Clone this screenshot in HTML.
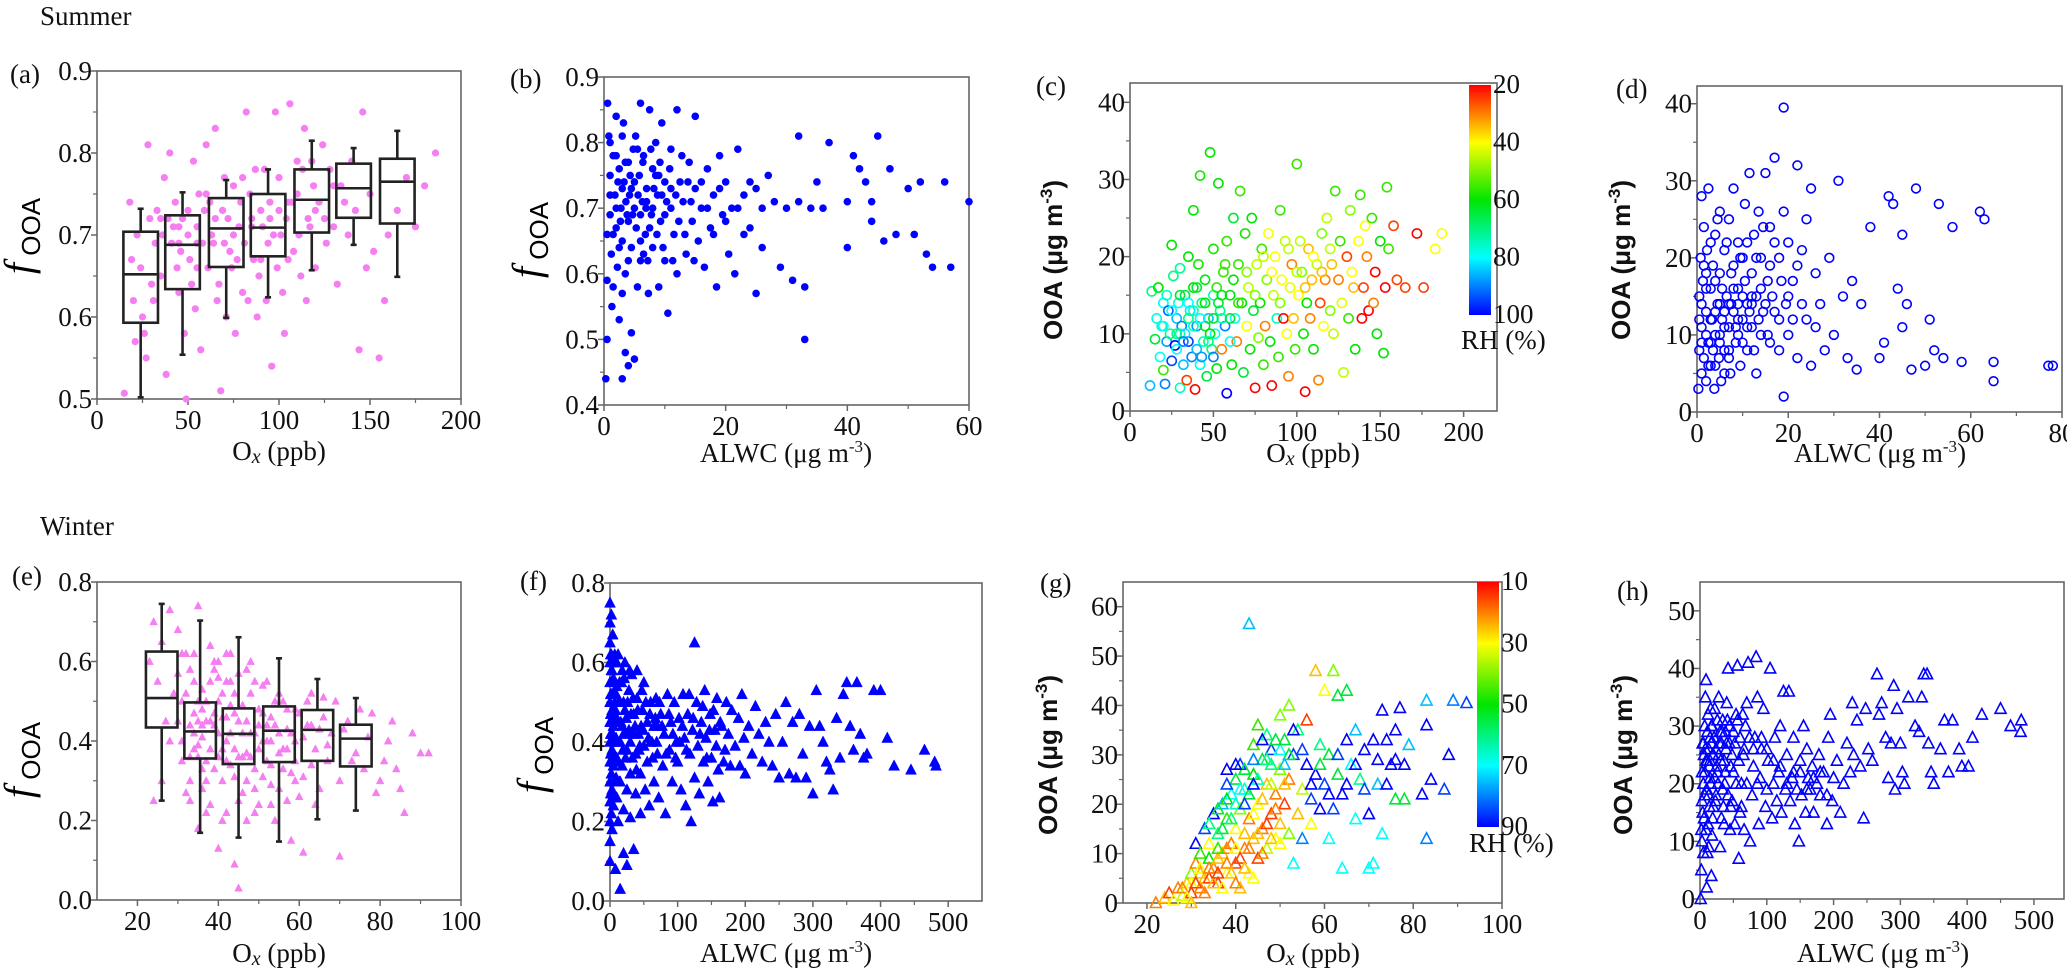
<!DOCTYPE html>
<html><head><meta charset="utf-8"><style>
html,body{margin:0;padding:0;background:#fff;}
svg{display:block;}
.tk{font-family:"Liberation Serif",serif;font-size:27px;fill:#111;}
.ttl{font-family:"Liberation Serif",serif;font-size:27px;fill:#111;}
.ttls{font-family:"Liberation Sans",sans-serif;font-size:26px;font-weight:bold;fill:#111;}
</style></head><body>
<svg id="fig" width="2067" height="977" viewBox="0 0 2067 977" xmlns="http://www.w3.org/2000/svg">
<defs>
<linearGradient id="jet" x1="0" y1="0" x2="0" y2="1">
<stop offset="0" stop-color="hsl(0,100%,50%)"/><stop offset="0.25" stop-color="hsl(60,100%,50%)"/>
<stop offset="0.5" stop-color="hsl(120,100%,45%)"/><stop offset="0.75" stop-color="hsl(180,100%,50%)"/>
<stop offset="1" stop-color="hsl(240,100%,50%)"/></linearGradient>
</defs>
<text x="40" y="25" class="ttl" font-size="30">Summer</text>
<text x="40" y="535" class="ttl" font-size="30">Winter</text>
</svg>
<script>
// ---- data ----
const boxA_x=[24,47,71,94,118,141,165];
const boxA_q1=[0.593,0.634,0.661,0.674,0.703,0.721,0.714];
const boxA_med=[0.652,0.688,0.708,0.709,0.743,0.757,0.765];
const boxA_q3=[0.704,0.724,0.745,0.750,0.780,0.787,0.793];
const boxA_lo=[0.502,0.554,0.599,0.624,0.657,0.688,0.649];
const boxA_hi=[0.732,0.752,0.767,0.780,0.815,0.806,0.827];
const boxE_x=[26,35.5,45,55,64.5,74];
const boxE_q1=[0.434,0.356,0.342,0.347,0.350,0.336];
const boxE_med=[0.508,0.424,0.418,0.426,0.428,0.406];
const boxE_q3=[0.625,0.497,0.482,0.487,0.478,0.441];
const boxE_lo=[0.250,0.169,0.157,0.147,0.203,0.225];
const boxE_hi=[0.745,0.703,0.661,0.608,0.556,0.508];

const a_pts=[[15,0.507],[18,0.74],[20,0.62],[22,0.70],[24,0.66],[26,0.58],[28,0.81],[30,0.64],[32,0.69],[19,0.67],[21,0.57],[25,0.60],[27,0.55],[29,0.72],[31,0.62],[33,0.73],[35,0.65],[37,0.77],[40,0.80],[42,0.71],[44,0.66],[46,0.68],[48,0.58],[50,0.70],[52,0.64],[54,0.61],[56,0.75],[38,0.53],[41,0.69],[43,0.74],[45,0.63],[47,0.72],[49,0.50],[51,0.67],[53,0.79],[55,0.71],[57,0.56],[60,0.81],[62,0.74],[64,0.69],[66,0.62],[68,0.51],[70,0.77],[72,0.72],[74,0.66],[76,0.58],[61,0.66],[63,0.70],[65,0.83],[67,0.64],[69,0.73],[71,0.60],[73,0.68],[75,0.76],[78,0.71],[80,0.63],[82,0.85],[84,0.75],[86,0.67],[88,0.60],[90,0.73],[92,0.78],[94,0.69],[96,0.54],[98,0.85],[81,0.69],[83,0.62],[85,0.72],[87,0.78],[89,0.65],[91,0.71],[93,0.62],[95,0.74],[97,0.70],[99,0.66],[100,0.77],[102,0.63],[104,0.72],[106,0.86],[108,0.68],[110,0.75],[112,0.65],[114,0.83],[116,0.72],[118,0.79],[120,0.66],[103,0.58],[107,0.74],[111,0.70],[115,0.62],[119,0.76],[122,0.74],[124,0.81],[126,0.69],[128,0.78],[130,0.71],[132,0.64],[134,0.76],[136,0.74],[138,0.70],[140,0.79],[142,0.73],[144,0.56],[146,0.85],[148,0.66],[150,0.75],[155,0.55],[160,0.70],[165,0.73],[170,0.77],[175,0.71],[180,0.76],[186,0.80],[152,0.68],[158,0.62],[36,0.70],[39,0.72],[58,0.69],[59,0.73],[77,0.67],[79,0.74],[101,0.70],[105,0.67],[113,0.78],[117,0.71]];
const a_extra=[[35,0.72],[45,0.71],[55,0.69],[65,0.72],[75,0.70],[85,0.71],[95,0.72],[105,0.74],[120,0.73],[130,0.76],[45,0.69],[50,0.73],[55,0.66],[60,0.75],[70,0.69],[80,0.77],[90,0.67],[100,0.73],[110,0.79],[125,0.72]];
const b_pts=[[0.3,0.44],[0.5,0.50],[0.6,0.86],[0.8,0.81],[1,0.75],[1,0.69],[1.2,0.63],[1.5,0.58],[1.5,0.78],[1.8,0.72],[2,0.67],[2,0.84],[2.2,0.61],[2.5,0.76],[2.5,0.53],[2.8,0.70],[3,0.44],[3,0.65],[3,0.81],[3.3,0.74],[3.5,0.48],[3.5,0.60],[3.8,0.69],[4,0.46],[4,0.77],[4.2,0.72],[4.5,0.51],[4.5,0.64],[4.8,0.79],[5,0.47],[5,0.70],[5.3,0.67],[5.5,0.58],[5.8,0.75],[6,0.86],[6,0.62],[6.3,0.71],[6.5,0.78],[6.8,0.66],[7,0.73],[7.3,0.57],[7.5,0.85],[7.8,0.69],[8,0.76],[8,0.64],[8.5,0.80],[8.8,0.72],[9,0.58],[9.3,0.68],[9.5,0.83],[10,0.74],[10,0.62],[10.5,0.54],[11,0.70],[11,0.79],[11.5,0.66],[12,0.85],[12,0.60],[12.5,0.74],[13,0.71],[13.5,0.63],[14,0.77],[14.5,0.68],[15,0.84],[15,0.73],[15.5,0.65],[16,0.70],[16.5,0.61],[17,0.76],[17.5,0.67],[18,0.72],[18.5,0.58],[19,0.78],[19.5,0.69],[20,0.74],[20.5,0.63],[21,0.70],[21.5,0.60],[22,0.79],[23,0.72],[24,0.67],[25,0.73],[25,0.57],[26,0.70],[27,0.75],[28,0.71],[29,0.61],[30,0.70],[31,0.59],[32,0.81],[32,0.71],[33,0.50],[33,0.58],[34,0.70],[35,0.74],[36,0.70],[37,0.80],[40,0.71],[40,0.64],[41,0.78],[42,0.76],[43,0.74],[44,0.68],[44,0.71],[45,0.81],[46,0.65],[47,0.76],[48,0.66],[50,0.73],[51,0.66],[52,0.74],[53,0.63],[54,0.61],[56,0.74],[57,0.61],[60,0.71],[1,0.72],[2,0.70],[3,0.73],[4,0.68],[5,0.74],[6,0.69],[7,0.71],[8,0.70],[9,0.75],[10,0.69],[1.5,0.66],[2.5,0.64],[3.5,0.77],[4.5,0.73],[5.5,0.79],[6.5,0.63],[7.5,0.67],[8.5,0.75],[9.5,0.72],[11,0.73]];
const b_extra=[[0.5,0.66],[0.5,0.59],[1,0.80],[1.3,0.55],[2,0.78],[2.3,0.74],[2.7,0.68],[3,0.57],[3.2,0.83],[3.6,0.71],[4,0.62],[4.3,0.75],[4.7,0.69],[5.2,0.81],[5.6,0.72],[6,0.65],[6.4,0.77],[6.9,0.70],[7.2,0.62],[7.7,0.79],[8.2,0.73],[8.7,0.66],[9.2,0.77],[9.7,0.64],[10.3,0.71],[10.8,0.76],[11.3,0.62],[11.8,0.72],[12.3,0.68],[12.8,0.78],[13.3,0.66],[13.8,0.74],[14.3,0.71],[14.8,0.62],[16,0.74],[17,0.70],[18,0.66],[19,0.73],[20,0.68],[22,0.70],[23,0.66],[24,0.74],[26,0.64]];
const c_pts=[[12,3.3,85],[13,15.5,70],[15,9.3,65],[16,12,78],[17,16,60],[18,7,80],[19,11,75],[20,5.3,55],[20,14,80],[21,3.5,90],[22,9,88],[23,13,92],[24,10,70],[25,6.5,95],[25,21.5,60],[26,17.5,70],[27,8.5,100],[28,12,85],[29,14,78],[30,3,75],[30,18.5,72],[31,11,90],[32,6,85],[33,15,65],[34,4,25],[35,20,60],[35,9,95],[36,13,82],[37,7,90],[38,16,60],[38,26,60],[39,2.8,20],[40,11,88],[41,19,58],[42,6,80],[42,30.5,58],[43,14,70],[44,9,75],[45,17,62],[46,4.5,65],[47,12,85],[48,33.5,60],[49,8,70],[50,21,58],[50,15,75],[51,10,80],[52,5.5,60],[53,29.5,60],[54,13,70],[55,8,30],[56,18,55],[57,11,90],[58,2.3,100],[58,22,55],[60,15,62],[61,6,60],[62,25,65],[63,12,78],[64,9,30],[65,19,55],[66,28.5,55],[67,14,60],[68,5,65],[69,23,58],[70,11,40],[71,16,45],[72,8,60],[73,25,60],[74,13,65],[75,3,20],[76,19,45],[77,9.5,50],[78,14,60],[79,21,55],[80,6,55],[81,11,30],[82,17,50],[83,23,40],[84,9,60],[85,3.3,20],[86,15,45],[87,20,40],[88,12,75],[89,7,55],[90,26,55],[91,17,40],[92,12,20],[93,22,45],[94,10,40],[95,4.5,30],[96,16,42],[97,19,30],[98,12,35],[99,8,55],[100,32,55],[101,15,40],[102,22,45],[103,18,50],[104,10,60],[105,2.5,20],[106,14,60],[107,21,35],[108,12,30],[109,17,35],[110,8,60],[112,19,45],[113,4,30],[114,14,25],[115,23,50],[116,11,40],[117,17,30],[118,25,45],[120,13,50],[121,19,35],[122,10,45],[123,28.5,55],[125,17,30],[126,22,55],[127,14,42],[128,5,45],[130,20,25],[131,12,55],[132,26,50],[133,18,40],[134,16,35],[135,8,60],[137,22,40],[138,28,55],[139,12,20],[140,16,25],[141,24,40],[142,20,30],[143,13,20],[145,25,55],[146,14,30],[147,18,20],[148,10,60],[150,22,60],[152,7.5,60],[153,16,20],[154,29,55],[155,21,55],[158,24,25],[160,17,25],[165,16,25],[172,23,20],[176,16,25],[183,21,40],[187,23,40],[30,10,75],[35,12,70],[40,8,85],[45,11,65],[50,7,90],[55,12,75],[60,9,80],[28,8,80],[33,10,82],[38,13,75],[43,7,88],[48,10,60],[53,14,65]];
const c_extra=[[20,11,80],[22,15,75],[25,13,80],[28,10,70],[30,15,65],[32,9,90],[35,14,80],[38,11,75],[40,16,65],[42,12,80],[45,14,60],[47,9,70],[50,12,65],[52,16,55],[55,15,60],[57,19,55],[60,12,65],[62,17,60],[65,14,55],[70,18,50],[75,15,50],[80,20,45],[85,18,40],[90,14,50],[95,21,45],[100,18,45],[105,16,35],[110,20,40],[115,18,35],[120,21,45]];
const d_pts=[[0.3,3],[0.5,8],[0.5,15],[0.8,20],[1,5],[1,11],[1,28],[1.3,17],[1.5,7],[1.5,24],[2,13],[2,4],[2.2,21],[2.5,9],[2.5,29],[3,16],[3,6],[3.3,12],[3.5,19],[3.8,3],[4,23],[4,10],[4.5,14],[4.8,7],[5,26],[5,18],[5.3,4],[5.5,12],[6,21],[6,8],[6.5,15],[7,25],[7,11],[7.3,5],[7.5,18],[8,13],[8,29],[8.5,9],[9,22],[9,16],[9.5,6],[10,20],[10,12],[10.5,27],[11,14],[11,8],[11.5,31],[12,18],[12,11],[12.5,23],[13,15],[13,5],[13.5,26],[14,10],[14,20],[14.5,13],[15,31],[15.5,17],[16,9],[16,24],[17,13],[17,33],[18,20],[18,8],[19,2],[19,39.5],[19.5,14],[20,22],[20,10],[21,17],[22,32],[22,7],[23,21],[24,12],[25,29],[25,6],[26,18],[27,14],[28,8],[29,20],[30,10],[31,30],[32,15],[33,7],[34,17],[35,5.5],[36,14],[38,24],[40,7],[41,9],[42,28],[43,27],[44,16],[45,11],[45,23],[46,14],[47,5.5],[48,29],[50,6],[51,12],[52,8],[53,27],[54,7],[56,24],[58,6.5],[62,26],[63,25],[65,6.5],[65,4],[77,6],[78,6],[1,14],[2,10],[3,9],[4,17],[5,14],[6,11],[7,14],[8,16],[9,12],[10,15],[11,11],[12,14],[3,12],[5,9],[7,8],[9,10],[2,18],[4,6],[6,5]];
const d_extra=[[0.5,12],[1,9],[1.5,19],[2,16],[2.5,6],[3,22],[3.5,8],[4,13],[4.5,25],[5,10],[5.5,16],[6,13],[6.5,22],[7,7],[7.5,14],[8,19],[8.5,11],[9,14],[9.5,20],[10,9],[10.5,17],[11,22],[11.5,13],[12,15],[12.5,8],[13,20],[13.5,12],[14,16],[14.5,24],[15,14],[15.5,10],[16,19],[16.5,15],[17,22],[18,12],[18.5,17],[19,26],[20,15],[21,12],[22,19],[23,14],[24,25],[26,11]];
const e_pts=[[23,0.60],[24,0.70],[25,0.55],[26,0.65],[27,0.45],[28,0.73],[29,0.52],[30,0.68],[31,0.40],[32,0.62],[33,0.58],[34,0.47],[35,0.74],[36,0.53],[37,0.35],[38,0.64],[39,0.44],[40,0.56],[41,0.30],[42,0.62],[43,0.49],[44,0.38],[45,0.57],[46,0.27],[47,0.45],[48,0.52],[49,0.33],[50,0.48],[51,0.40],[52,0.55],[53,0.29],[54,0.44],[55,0.37],[56,0.50],[57,0.25],[58,0.42],[59,0.35],[60,0.47],[61,0.31],[62,0.44],[63,0.52],[64,0.38],[65,0.28],[66,0.46],[67,0.35],[68,0.42],[70,0.30],[72,0.45],[74,0.37],[76,0.33],[78,0.47],[80,0.30],[82,0.40],[84,0.33],[86,0.22],[88,0.42],[90,0.37],[92,0.37],[24,0.25],[26,0.30],[28,0.40],[30,0.57],[32,0.27],[33,0.36],[34,0.62],[35,0.18],[36,0.41],[37,0.50],[38,0.24],[39,0.58],[40,0.13],[41,0.46],[42,0.22],[43,0.55],[44,0.09],[45,0.03],[46,0.49],[47,0.20],[48,0.60],[49,0.42],[50,0.24],[51,0.54],[52,0.35],[53,0.46],[54,0.20],[55,0.52],[56,0.33],[57,0.43],[58,0.15],[59,0.48],[60,0.26],[61,0.12],[62,0.50],[63,0.34],[64,0.24],[65,0.43],[66,0.51],[67,0.39],[69,0.50],[70,0.11],[71,0.43],[73,0.35],[75,0.48],[77,0.41],[79,0.27],[81,0.35],[83,0.45],[85,0.28],[31,0.50],[33,0.44],[35,0.39],[37,0.30],[39,0.47],[41,0.38],[43,0.34],[45,0.45],[47,0.37],[49,0.55],[51,0.31],[53,0.40],[55,0.28],[57,0.38],[59,0.30],[61,0.41],[63,0.44],[36,0.33],[38,0.45],[40,0.36],[42,0.40],[44,0.31],[46,0.36],[34,0.42],[35,0.45],[36,0.48],[34,0.38],[35,0.36],[36,0.44],[40,0.50],[42,0.46],[44,0.52],[48,0.42],[50,0.38],[52,0.44],[38,0.55],[40,0.60],[42,0.55]];
const e_extra=[[30,0.45],[31,0.35],[32,0.52],[33,0.30],[34,0.55],[35,0.50],[36,0.28],[37,0.45],[38,0.38],[39,0.33],[40,0.42],[41,0.52],[42,0.35],[43,0.42],[44,0.47],[45,0.36],[46,0.42],[47,0.30],[48,0.36],[49,0.28],[50,0.44],[51,0.47],[52,0.40],[53,0.34],[54,0.50],[55,0.42],[56,0.38],[57,0.48],[58,0.32],[59,0.40],[33,0.25],[37,0.22],[41,0.20],[45,0.25],[49,0.22],[53,0.24],[39,0.60],[43,0.62],[47,0.58],[31,0.62]];
const f_pts=[[0,0.75],[0,0.70],[0,0.65],[0,0.60],[0,0.55],[0,0.50],[0,0.45],[0,0.40],[0,0.35],[0,0.30],[0,0.25],[0,0.20],[0,0.15],[0,0.10],[2,0.72],[2,0.62],[2,0.52],[2,0.42],[2,0.32],[2,0.22],[3,0.58],[3,0.48],[3,0.38],[3,0.28],[3,0.18],[4,0.67],[5,0.56],[5,0.44],[5,0.34],[5,0.24],[7,0.50],[7,0.40],[7,0.30],[8,0.60],[8,0.08],[10,0.54],[10,0.46],[10,0.36],[10,0.26],[12,0.62],[12,0.20],[15,0.50],[15,0.40],[15,0.30],[15,0.03],[18,0.58],[18,0.44],[18,0.34],[20,0.23],[20,0.12],[22,0.60],[22,0.48],[25,0.38],[25,0.28],[25,0.09],[28,0.53],[28,0.43],[30,0.32],[30,0.21],[32,0.57],[35,0.47],[35,0.13],[38,0.37],[38,0.27],[40,0.51],[40,0.58],[42,0.42],[45,0.32],[45,0.22],[48,0.48],[50,0.39],[50,0.55],[52,0.28],[55,0.45],[55,0.35],[58,0.24],[60,0.50],[62,0.40],[65,0.30],[65,0.44],[68,0.51],[70,0.37],[72,0.26],[75,0.47],[78,0.34],[80,0.42],[82,0.22],[85,0.52],[88,0.38],[90,0.45],[92,0.30],[95,0.50],[98,0.40],[100,0.35],[102,0.46],[105,0.28],[108,0.52],[110,0.41],[112,0.24],[115,0.47],[118,0.37],[120,0.20],[122,0.43],[125,0.65],[125,0.31],[128,0.50],[130,0.39],[132,0.27],[135,0.45],[138,0.35],[140,0.53],[142,0.41],[145,0.30],[148,0.47],[150,0.36],[152,0.25],[155,0.43],[158,0.51],[160,0.33],[162,0.26],[165,0.44],[170,0.38],[172,0.50],[175,0.42],[178,0.34],[180,0.48],[185,0.39],[190,0.46],[192,0.34],[195,0.52],[198,0.41],[200,0.32],[205,0.44],[210,0.37],[215,0.49],[220,0.42],[225,0.35],[230,0.45],[235,0.40],[240,0.34],[245,0.47],[250,0.31],[255,0.40],[260,0.50],[265,0.32],[270,0.45],[275,0.31],[280,0.47],[285,0.37],[290,0.31],[295,0.44],[300,0.27],[305,0.53],[310,0.44],[315,0.40],[320,0.35],[325,0.33],[330,0.28],[335,0.46],[340,0.36],[345,0.52],[350,0.55],[355,0.44],[360,0.38],[365,0.55],[370,0.42],[375,0.36],[380,0.37],[390,0.53],[400,0.53],[410,0.41],[420,0.34],[445,0.33],[465,0.38],[480,0.35],[482,0.34],[1,0.47],[1,0.37],[1,0.27],[4,0.52],[4,0.42],[6,0.46],[6,0.36],[6,0.26],[9,0.41],[9,0.31],[12,0.45],[12,0.35],[14,0.55],[20,0.42],[20,0.50],[24,0.46],[30,0.40],[33,0.36],[36,0.42],[44,0.39],[46,0.44],[60,0.40],[70,0.44]];
const f_extra=[[1,0.62],[1,0.52],[1,0.42],[2,0.58],[3,0.45],[4,0.35],[5,0.60],[6,0.55],[7,0.62],[8,0.48],[9,0.52],[10,0.60],[11,0.40],[13,0.50],[14,0.30],[16,0.45],[17,0.55],[19,0.38],[21,0.56],[23,0.36],[26,0.50],[27,0.42],[29,0.58],[31,0.47],[34,0.51],[37,0.44],[39,0.33],[41,0.48],[43,0.38],[47,0.53],[49,0.43],[53,0.50],[57,0.41],[59,0.47],[63,0.36],[67,0.46],[69,0.40],[73,0.50],[77,0.44],[83,0.37],[87,0.47],[93,0.42],[97,0.36],[103,0.40],[107,0.44],[113,0.38],[117,0.52],[123,0.46],[133,0.42],[137,0.49],[143,0.36],[147,0.43],[153,0.48],[157,0.39],[163,0.45],[168,0.35]];
const g_pts=[[22,0,20],[24,1,25],[25,2,15],[26,0.5,30],[27,3,20],[28,1.5,35],[29,4,25],[30,2,15],[30,6,40],[31,8,20],[31,12,90],[32,3,20],[32,10,45],[33,5,25],[33,15,85],[34,9,50],[34,12,30],[35,7,20],[35,18,90],[36,4,15],[36,14,60],[37,10,25],[37,20,75],[38,6,30],[38,17,45],[38,27,90],[39,12,20],[39,22,70],[40,8,15],[40,15,30],[40,25,55],[41,3,25],[41,19,40],[41,28,85],[42,11,20],[42,23,65],[43,6,30],[43,17,20],[43,56.5,75],[44,13,25],[44,26,50],[44,32,45],[45,9,15],[45,20,30],[45,36,45],[46,15,20],[46,29,55],[47,11,35],[47,24,25],[47,34,60],[48,18,15],[48,31,85],[49,13,30],[49,22,20],[50,16,25],[50,27,40],[50,38,40],[51,20,15],[51,33,55],[52,14,40],[52,25,20],[52,40,40],[53,8,70],[53,30,85],[54,18,25],[54,35,60],[55,23,35],[55,13,80],[56,37,15],[56,28,90],[57,21,85],[57,16,30],[58,47,25],[58,26,90],[59,32,60],[59,19,90],[60,43,30],[60,24,85],[61,13,70],[61,30,55],[62,47,40],[62,19,85],[63,26,55],[63,42,55],[64,7,70],[64,22,90],[65,43,55],[65,33,90],[66,28,70],[67,17,70],[67,35,75],[68,25,60],[69,31,90],[70,18,90],[70,7,70],[71,8,70],[72,29,90],[72,24,75],[73,39,90],[73,14,70],[74,33,90],[75,28,90],[76,21,55],[76,35,90],[77,39.5,90],[78,28,90],[78,21,55],[79,32,75],[82,22,90],[83,13,80],[83,41,75],[83,36,90],[84,25,90],[87,23,85],[88,30,90],[89,41,80],[92,40.5,85],[30,4,30],[32,6,25],[34,5,15],[36,9,25],[38,11,20],[40,11,30],[42,14,25],[44,18,30],[46,21,25],[48,24,35],[34,16,60],[36,19,55],[38,21,50],[40,20,65],[42,27,55],[44,29,80],[46,33,90],[48,28,60],[50,31,70],[52,30,55]];
const g_extra=[[28,3,20],[29,1,30],[30,0,25],[31,4,15],[32,7,30],[33,2,20],[34,7,20],[35,4,25],[36,6,15],[37,3,30],[38,8,20],[39,6,25],[40,4,20],[41,9,15],[42,7,25],[43,11,20],[44,5,30],[45,14,25],[46,10,20],[47,16,15],[48,13,25],[49,19,20],[50,12,30],[51,24,25],[36,11,45],[37,15,55],[39,17,60],[41,23,70],[43,22,55],[45,25,65],[47,29,60],[49,33,55],[51,28,75],[53,35,90],[55,31,85],[57,24,90],[59,28,55],[61,22,90],[63,30,85],[65,24,90],[67,28,90],[69,23,85],[71,33,90],[74,24,90],[76,29,90],[38,24,85],[40,28,90],[42,20,85],[44,24,90]];
const h_pts=[[1,0],[2,5],[3,10],[4,15],[5,20],[6,25],[7,30],[8,35],[9,38],[10,2],[11,8],[12,13],[13,18],[14,23],[15,28],[16,33],[17,4],[18,11],[20,16],[22,21],[24,26],[26,31],[28,35],[30,9],[32,14],[34,19],[36,24],[38,29],[40,34],[42,40],[45,12],[48,17],[50,22],[52,27],[54,32],[56,40.5],[58,7],[60,15],[62,20],[65,25],[68,30],[70,34],[72,41],[75,10],[78,18],[80,23],[82,28],[84,42],[86,35],[88,13],[90,21],[92,26],[95,33],[98,16],[100,19],[102,24],[105,40],[108,14],[110,20],[112,28],[115,17],[118,22],[120,30],[122,15],[125,36],[128,19],[130,25],[133,36],[135,17],[138,21],[140,28],[142,13],[145,19],[148,10],[150,24],[152,18],[155,30],[158,15],[160,26],[162,21],[165,19],[168,23],[170,15],[175,20],[178,25],[180,18],[185,22],[190,13],[192,28],[195,32],[198,17],[200,21],[205,24],[210,15],[215,20],[220,27],[225,22],[228,34],[230,25],[235,31],[240,23],[245,14],[248,33],[252,26],[258,24],[265,39],[268,32],[272,34],[278,28],[282,21],[286,27],[290,37],[292,19],[295,33],[300,27],[303,22],[306,20],[312,35],[322,30],[328,29],[332,35],[335,39],[340,39],[342,27],[346,22],[350,20],[360,26],[366,31],[372,22],[378,31],[388,26],[392,23],[402,23],[408,28],[422,32],[450,33],[465,30],[480,29],[481,31],[3,22],[5,27],[7,18],[9,24],[11,29],[13,26],[15,21],[17,30],[19,25],[21,28],[23,17],[25,23],[27,20],[29,27],[31,24],[33,29],[35,16],[37,20],[39,26],[41,31],[44,27],[46,23],[60,28],[64,32],[66,12]];
const h_extra=[[2,12],[3,17],[4,27],[5,8],[6,14],[7,22],[8,26],[9,12],[10,19],[11,24],[12,32],[13,9],[14,16],[15,24],[16,20],[17,27],[18,30],[19,14],[20,25],[22,33],[24,18],[26,22],[28,25],[30,29],[32,27],[34,31],[36,13],[38,22],[40,27],[42,18],[44,30],[46,16],[48,25],[50,29],[52,13],[54,20],[56,31],[58,24],[62,16],[66,26],[70,20],[74,28],[80,26],[86,20],[92,28],[100,26],[110,24],[120,23],[130,20],[140,22],[150,22],[160,19],[170,21],[180,22],[190,18]];

// ---- drawing ----
const NS="http://www.w3.org/2000/svg";
const svg=document.getElementById('fig');
function el(tag,attrs,parent){const e=document.createElementNS(NS,tag);for(const k in attrs)e.setAttribute(k,attrs[k]);(parent||svg).appendChild(e);return e;}
function rhColor(v,lo,hi){const t=Math.max(0,Math.min(1,(v-lo)/(hi-lo)));return 'hsl('+(t*240)+',100%,'+(t>0.4&&t<0.6?45:50)+'%)';}

function panel(p){
  const g=el('g',{});
  
  
  const sx=v=>p.x0+(v-p.xmin)/(p.xmax-p.xmin)*(p.x1-p.x0);
  const sy=v=>p.y1-(v-p.ymin)/(p.ymax-p.ymin)*(p.y1-p.y0);
  p.sx=sx;p.sy=sy;p.g=g;
  const fr=el('rect',{x:p.x0,y:p.y0,width:p.x1-p.x0,height:p.y1-p.y0,fill:'none',stroke:'#666','stroke-width':1.6},g);
  
  
  p.xticks.forEach(v=>{
    const x=sx(v);
    el('line',{x1:x,y1:p.y1,x2:x,y2:p.y1+6,stroke:'#666','stroke-width':1.5},g);
    const t=el('text',{x:x,y:p.y1+30,class:'tk','text-anchor':'middle'},g);
    t.textContent=p.xfmt(v);
    
    
  });
  (p.xminor||[]).forEach(v=>{const x=sx(v);el('line',{x1:x,y1:p.y1,x2:x,y2:p.y1+4,stroke:'#666','stroke-width':1.2},g);});
  p.yticks.forEach(v=>{
    const y=sy(v);
    el('line',{x1:p.x0-6,y1:y,x2:p.x0,y2:y,stroke:'#666','stroke-width':1.5},g);
    const t=el('text',{x:p.x0-5,y:y+9,class:'tk','text-anchor':'end'},g);
    t.textContent=p.yfmt(v);
    
    
  });
  (p.yminor||[]).forEach(v=>{const y=sy(v);el('line',{x1:p.x0-4,y1:y,x2:p.x0,y2:y,stroke:'#666','stroke-width':1.2},g);});
  const lb=el('text',{x:p.lx,y:p.ly,class:'ttl','font-size':30},g);
  lb.textContent=p.label;
  
  
  return p;
}
function range(a,b,s){const r=[];for(let v=a;v<=b+1e-9;v+=s)r.push(+v.toFixed(4));return r;}
const f1=v=>v.toFixed(1), f0=v=>String(Math.round(v));

function dot(p,x,y,r,c){const e=el('circle',{cx:p.sx(x),cy:p.sy(y),r:r,fill:c},p.g);}
function ring(p,x,y,r,c){const e=el('circle',{cx:p.sx(x),cy:p.sy(y),r:r,fill:'none',stroke:c,'stroke-width':1.6},p.g);}
function tri(p,x,y,s,c,fill){const X=p.sx(x),Y=p.sy(y);const e=el('polygon',{points:(X)+','+(Y-s*0.6)+' '+(X-s*0.55)+','+(Y+s*0.45)+' '+(X+s*0.55)+','+(Y+s*0.45),fill:fill?c:'none',stroke:c,'stroke-width':fill?0.5:1.6},p.g);}
function boxes(p,xs,q1,med,q3,lo,hi,w){
  xs.forEach((x,i)=>{
    const bg=el('g',{},p.g);
    
    
    const X=p.sx(x),L=p.sx(x-w/2),R=p.sx(x+w/2);
    const st={stroke:'#222','stroke-width':2.6,fill:'none'};
    el('rect',Object.assign({x:L,y:p.sy(q3[i]),width:R-L,height:p.sy(q1[i])-p.sy(q3[i])},st),bg);
    el('line',Object.assign({x1:L,x2:R,y1:p.sy(med[i]),y2:p.sy(med[i])},st),bg);
    el('line',Object.assign({x1:X,x2:X,y1:p.sy(q3[i]),y2:p.sy(hi[i])},st),bg);
    el('line',Object.assign({x1:X,x2:X,y1:p.sy(q1[i]),y2:p.sy(lo[i])},st),bg);
    el('line',Object.assign({x1:X-3,x2:X+3,y1:p.sy(hi[i]),y2:p.sy(hi[i])},st),bg);
    el('line',Object.assign({x1:X-3,x2:X+3,y1:p.sy(lo[i]),y2:p.sy(lo[i])},st),bg);
  });
}
function colorbar(x,y0,y1,labels,lab){
  const g=el('g',{});
  
  
  el('rect',{x:x,y:y0,width:22,height:y1-y0,fill:'url(#jet)'},g);
  labels.forEach((v,i)=>{
    const t=el('text',{x:x+24,y:y0+(y1-y0)*i/(labels.length-1)+8,class:'tk','font-size':22},g);
    t.textContent=v;
    
    
  });
  const t=el('text',{x:x-8,y:lab,class:'ttl'},g);
  t.textContent='RH (%)';
  
  
}
function fTitle(x,y){
  const t=el('text',{transform:'translate('+x+','+y+') rotate(-90)','text-anchor':'middle'});
  t.innerHTML='<tspan font-family="Liberation Serif,serif" font-style="italic" font-size="40">f</tspan><tspan font-family="Liberation Sans,sans-serif" font-size="26" dy="8"> OOA</tspan>';
  
  
}
function ooaTitle(x,y){
  const t=el('text',{transform:'translate('+x+','+y+') rotate(-90)','text-anchor':'middle',class:'ttls'});
  t.innerHTML='OOA (μg m<tspan font-size="17" dy="-10">-3</tspan><tspan dy="10">)</tspan>';
  
  
}
function oxTitle(x,y){
  const t=el('text',{x:x,y:y,class:'ttl','text-anchor':'middle'});
  t.innerHTML='O<tspan font-style="italic" font-size="20" dy="3">x</tspan><tspan dy="-3"> (ppb)</tspan>';
  
  
}
function alwcTitle(x,y){
  const t=el('text',{x:x,y:y,class:'ttl','text-anchor':'middle'});
  t.innerHTML='ALWC (μg m<tspan font-size="17" dy="-10">-3</tspan><tspan dy="10">)</tspan>';
  
  
}

const PINK='#f57ef0', BLUE='#0000ff';
// (a)
const A=panel({name:'panel-a',x0:97,x1:461,y0:71,y1:399,xmin:0,xmax:200,ymin:0.5,ymax:0.9,xticks:range(0,200,50),xminor:range(25,175,50),yticks:range(0.5,0.9,0.1),yminor:range(0.55,0.85,0.1),xfmt:f0,yfmt:f1,label:'(a)',lx:10,ly:83});
a_pts.concat(a_extra).forEach(d=>dot(A,d[0],d[1],3.6,PINK));
boxes(A,boxA_x,boxA_q1,boxA_med,boxA_q3,boxA_lo,boxA_hi,19);
fTitle(32,236);oxTitle(279,460);
// (b)
const B=panel({name:'panel-b',x0:604,x1:969,y0:77,y1:405,xmin:0,xmax:60,ymin:0.4,ymax:0.9,xticks:range(0,60,20),xminor:range(10,50,20),yticks:range(0.4,0.9,0.1),yminor:range(0.45,0.85,0.1),xfmt:f0,yfmt:f1,label:'(b)',lx:510,ly:88});
b_pts.concat(b_extra).forEach(d=>dot(B,d[0],d[1],3.8,BLUE));
fTitle(540,240);alwcTitle(786,462);
// (c)
const C=panel({name:'panel-c',x0:1130,x1:1497,y0:83,y1:411,xmin:0,xmax:220,ymin:0,ymax:42.5,xticks:range(0,200,50),xminor:range(25,175,50),yticks:range(0,40,10),yminor:range(5,35,10),xfmt:f0,yfmt:f0,label:'(c)',lx:1036,ly:95});
c_pts.concat(c_extra).forEach(d=>ring(C,d[0],d[1],4.6,rhColor(d[2],20,100)));
colorbar(1469,85,315,[20,40,60,80,100],349);
ooaTitle(1062,260);oxTitle(1313,462);
// (d)
const D=panel({name:'panel-d',x0:1697,x1:2062,y0:86,y1:412,xmin:0,xmax:80,ymin:0,ymax:42.3,xticks:range(0,80,20),xminor:range(10,70,20),yticks:range(0,40,10),yminor:range(5,35,10),xfmt:f0,yfmt:f0,label:'(d)',lx:1616,ly:98});
d_pts.concat(d_extra).forEach(d=>ring(D,d[0],d[1],4.4,BLUE));
ooaTitle(1630,260);alwcTitle(1880,462);
// (e)
const E=panel({name:'panel-e',x0:97,x1:461,y0:582,y1:900,xmin:10,xmax:100,ymin:0,ymax:0.8,xticks:range(20,100,20),xminor:range(30,90,20),yticks:range(0,0.8,0.2),yminor:range(0.1,0.7,0.2),xfmt:f0,yfmt:f1,label:'(e)',lx:12,ly:585});
e_pts.concat(e_extra).forEach(d=>tri(E,d[0],d[1],7,PINK,true));
boxes(E,boxE_x,boxE_q1,boxE_med,boxE_q3,boxE_lo,boxE_hi,7.8);
fTitle(32,760);oxTitle(279,962);
// (f)
const F=panel({name:'panel-f',x0:610,x1:982,y0:583,y1:901,xmin:0,xmax:550,ymin:0,ymax:0.8,xticks:range(0,500,100),xminor:range(50,450,100),yticks:range(0,0.8,0.2),yminor:range(0.1,0.7,0.2),xfmt:f0,yfmt:f1,label:'(f)',lx:520,ly:590});
f_pts.concat(f_extra).forEach(d=>tri(F,d[0],d[1],10,BLUE,true));
fTitle(545,755);alwcTitle(786,962);
// (g)
const G=panel({name:'panel-g',x0:1123,x1:1502,y0:582,y1:903,xmin:14.6,xmax:100,ymin:0,ymax:65,xticks:range(20,100,20),xminor:range(30,90,20),yticks:range(0,60,10),yminor:range(5,55,10),xfmt:f0,yfmt:f0,label:'(g)',lx:1040,ly:592});
g_pts.concat(g_extra).forEach(d=>tri(G,d[0],d[1],10,rhColor(d[2],10,90),false));
colorbar(1477,582,827,[10,30,50,70,90],852);
ooaTitle(1057,755);oxTitle(1313,962);
// (h)
const H=panel({name:'panel-h',x0:1700,x1:2064,y0:582,y1:899,xmin:0,xmax:545,ymin:0,ymax:55,xticks:range(0,500,100),xminor:range(50,450,100),yticks:range(0,50,10),yminor:range(5,45,10),xfmt:f0,yfmt:f0,label:'(h)',lx:1617,ly:600});
h_pts.concat(h_extra).forEach(d=>tri(H,d[0],d[1],10,BLUE,false));
ooaTitle(1632,755);alwcTitle(1883,962);
</script>
</body></html>
